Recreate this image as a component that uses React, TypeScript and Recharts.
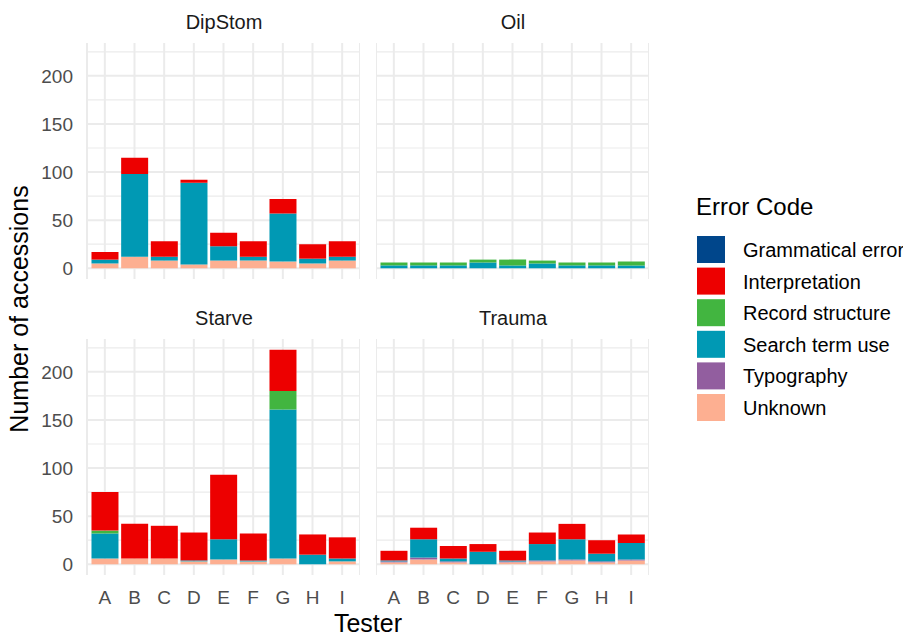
import { BarChart, Bar, XAxis, YAxis, CartesianGrid } from "recharts";

const testers = ["A", "B", "C", "D", "E", "F", "G", "H", "I"];
const yTicks = [0, 50, 100, 150, 200];
const yMinor = [25, 75, 125, 175, 225];
const zeros = [0, 0, 0, 0, 0, 0, 0, 0, 0];

// DipStom
const dipUnknown = [5, 12, 8, 4, 8, 8, 7, 5, 8];
const dipSearch = [4, 86, 4, 85, 15, 4, 50, 5, 4];
const dipInterp = [8, 17, 16, 3, 14, 16, 15, 15, 16];

// Oil
const oilSearch = [3, 3, 3, 6, 3, 5, 3, 3, 3];
const oilRecord = [3, 3, 3, 3, 6, 3, 3, 3, 4];

// Starve
const starveUnknown = [6, 6, 6, 3, 5, 3, 6, 0, 3];
const starveSearch = [26, 0, 0, 1, 21, 1, 155, 10, 3];
const starveRecord = [3, 0, 0, 0, 0, 0, 19, 0, 0];
const starveInterp = [40, 36, 34, 29, 67, 28, 43, 21, 22];

// Trauma
const traumaUnknown = [2, 5, 2, 0, 2, 3, 4, 2, 4];
const traumaTypo = [1, 2, 1, 0, 1, 1, 1, 1, 1];
const traumaSearch = [1, 19, 3, 13, 1, 17, 21, 8, 17];
const traumaInterp = [10, 12, 13, 8, 10, 12, 16, 14, 9];

// ggsci lancet palette, legend order
const codes = [
  { key: "grammatical", label: "Grammatical error", color: "#00468B" },
  { key: "interp", label: "Interpretation", color: "#ED0000" },
  { key: "record", label: "Record structure", color: "#42B540" },
  { key: "search", label: "Search term use", color: "#0099B4" },
  { key: "typo", label: "Typography", color: "#925E9F" },
  { key: "unknown", label: "Unknown", color: "#FDAF91" },
];
// ggplot stacks first level on top, so draw bottom-up in reverse
const stackOrder = [...codes].reverse();

type Cols = Partial<Record<string, number[]>>;

function build(cols: Cols) {
  return testers.map((t, i) => {
    const row: Record<string, string | number> = { tester: t };
    codes.forEach((c) => {
      row[c.key] = (cols[c.key] ?? zeros)[i];
    });
    return row;
  });
}

const facets = [
  { name: "DipStom", data: build({ unknown: dipUnknown, search: dipSearch, interp: dipInterp }) },
  { name: "Oil", data: build({ search: oilSearch, record: oilRecord }) },
  {
    name: "Starve",
    data: build({ unknown: starveUnknown, search: starveSearch, record: starveRecord, interp: starveInterp }),
  },
  {
    name: "Trauma",
    data: build({ unknown: traumaUnknown, typo: traumaTypo, search: traumaSearch, interp: traumaInterp }),
  },
];

const FONT = "'Liberation Sans', Arial, sans-serif";
const PANEL_W = 273;
const PANEL_H = 236;
const Y_AXIS_W = 87;
const X_AXIS_H = 40;
const GRID = "#EBEBEB";
const yDomain = [-11.15, 234.15];

function Panel({ data, showY, showX }: { data: Record<string, string | number>[]; showY: boolean; showX: boolean }) {
  const width = PANEL_W + (showY ? Y_AXIS_W : 0);
  // a little room below the panel so the "0" label is never dropped
  const height = PANEL_H + (showX ? X_AXIS_H : 0);
  return (
    <BarChart
      width={width}
      height={height}
      data={data}
      margin={{ top: 0, right: 0, bottom: 0, left: 0 }}
      barCategoryGap="5%"
      style={{ overflow: "visible" }}
    >
      <CartesianGrid stroke={GRID} strokeWidth={2} horizontalValues={yTicks} />
      <CartesianGrid stroke={GRID} strokeWidth={1.2} vertical={false} horizontalValues={yMinor} />
      <XAxis
        dataKey="tester"
        hide={!showX}
        height={X_AXIS_H}
        padding={{ left: 3, right: 3 }}
        axisLine={false}
        tickLine={false}
        tickSize={0}
        tickMargin={16}
        interval={0}
        tick={{ fontSize: 19, fill: "#4D4D4D", fontFamily: FONT }}
      />
      <YAxis
        hide={!showY}
        width={Y_AXIS_W}
        domain={yDomain}
        allowDataOverflow
        ticks={yTicks}
        interval={0}
        axisLine={false}
        tickLine={false}
        tickSize={0}
        tickMargin={14}
        tick={{ fontSize: 19, fill: "#4D4D4D", fontFamily: FONT }}
      />
      {stackOrder.map((c) => (
        <Bar key={c.key} dataKey={c.key} stackId="a" fill={c.color} isAnimationActive={false} />
      ))}
    </BarChart>
  );
}

export default function App() {
  const legendTop = 236;
  const legendStep = 31.6;
  return (
    <div style={{ position: "absolute", left: 0, top: 0, width: 903, height: 637, background: "#fff", fontFamily: FONT, overflow: "hidden" }}>
      <div style={{ position: "absolute", left: 0, top: 43 }}>
        <Panel data={facets[0].data} showY showX={false} />
      </div>
      <div style={{ position: "absolute", left: 376, top: 43 }}>
        <Panel data={facets[1].data} showY={false} showX={false} />
      </div>
      <div style={{ position: "absolute", left: 0, top: 339 }}>
        <Panel data={facets[2].data} showY showX />
      </div>
      <div style={{ position: "absolute", left: 376, top: 339 }}>
        <Panel data={facets[3].data} showY={false} showX />
      </div>

      <svg width={903} height={637} style={{ position: "absolute", left: 0, top: 0, pointerEvents: "none" }}>
        <g fontFamily={FONT} fill="#1A1A1A" fontSize={20} textAnchor="middle">
          <text x={224} y={29}>{facets[0].name}</text>
          <text x={513} y={29}>{facets[1].name}</text>
          <text x={224} y={325}>{facets[2].name}</text>
          <text x={513} y={325}>{facets[3].name}</text>
        </g>
        <text x={368} y={632} fontFamily={FONT} fontSize={25} textAnchor="middle" fill="#000">
          Tester
        </text>
        <text
          x={0}
          y={0}
          transform="translate(28,309) rotate(-90)"
          fontFamily={FONT}
          fontSize={25}
          textAnchor="middle"
          fill="#000"
        >
          Number of accessions
        </text>

        <text x={696} y={215} fontFamily={FONT} fontSize={24} fill="#000">
          Error Code
        </text>
        {codes.map((c, i) => (
          <g key={c.key}>
            <rect x={697} y={legendTop + i * legendStep} width={28} height={27} fill={c.color} />
            <text x={743} y={legendTop + i * legendStep + 21} fontFamily={FONT} fontSize={20} fill="#000">
              {c.label}
            </text>
          </g>
        ))}
      </svg>
    </div>
  );
}
